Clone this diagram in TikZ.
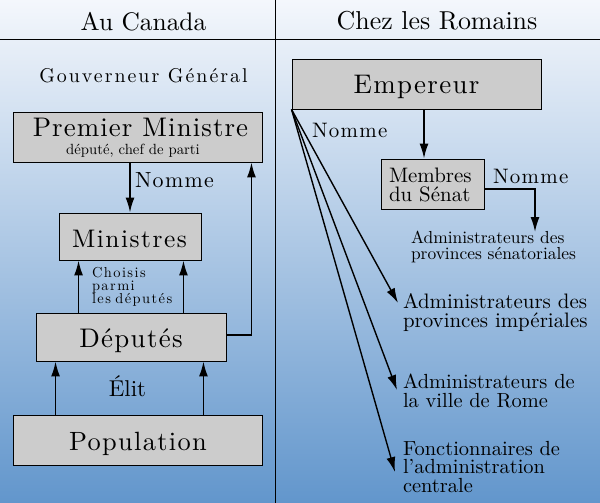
\documentclass[tikz,border=0pt]{standalone}
\usepackage{fontspec}
\setmainfont{lmroman10-regular}[Extension=.otf]
\usetikzlibrary{arrows.meta}
\definecolor{bgtop}{RGB}{244,247,252}
\definecolor{bgbot}{RGB}{98,150,204}
\definecolor{boxgray}{RGB}{204,204,204}
\newcommand{\fs}[1]{\fontsize{#1}{#1}\selectfont}
\newcommand{\ls}[1]{\addfontfeature{LetterSpace=#1}}
\begin{document}
\begin{tikzpicture}[x=1bp,y=-1bp,
  box/.style={draw=black,line width=0.9pt,fill=boxgray,inner sep=0pt},
  txt/.style={inner sep=0pt,outer sep=0pt},
  arr/.style={line width=1.7pt,-{Latex[length=15pt,width=9pt]}},
  darr/.style={line width=1.4pt,-{Latex[length=15pt,width=9pt]}},
  sep/.style={line width=0.9pt,black}]
\shade[top color=bgtop,bottom color=bgbot] (0,0) rectangle (600,503);
\useasboundingbox (0,0) rectangle (600,503);
\draw[sep] (0,39) -- (600,39);
\draw[sep] (275.5,0) -- (275.5,503);
% titles
\node[txt,anchor=base] (canada) at (143.5,31) {\fs{25.5}Au Canada};
\node[txt,anchor=base] (romains) at (437,30) {\fs{26}Chez les Romains};
% left side
\node[txt,anchor=base] (gouv) at (143.5,83) {\fs{20}\ls{10}Gouverneur Général};
\node[box,minimum width=249bp,minimum height=50bp] (pm) at (137.5,137) {};
\node[txt,anchor=base] (pmtxt) at (140.5,137) {\fs{27}\ls{4}Premier Ministre};
\node[txt,anchor=base] (pmsub) at (133,155) {\fs{14.8}député, chef de parti};
\node[box,minimum width=142bp,minimum height=47bp] (min) at (130,236.5) {};
\node[txt,anchor=base] (mintxt) at (129.5,247) {\fs{25.5}\ls{6}Ministres};
\node[box,minimum width=190bp,minimum height=48bp] (dep) at (131,337) {};
\node[txt,anchor=base] (deptxt) at (131,347) {\fs{27}\ls{5}Députés};
\node[box,minimum width=249bp,minimum height=50bp] (pop) at (137.5,440) {};
\node[txt,anchor=base] (poptxt) at (138,450) {\fs{26.5}\ls{5}Population};
\node[txt,anchor=base west] (nomme1) at (135,188) {\fs{22}\ls{6}Nomme};
\node[txt,anchor=base west,text width=100bp,align=flush left,
  font={\fontsize{14.5}{13.5}\selectfont\ls{10}}] (choisis) at (92,277)
  {Choisis\\parmi\\les\hspace{0.3em}députés};
\node[txt,anchor=base] (elit) at (127.5,396) {\fs{23}Élit};
\draw[arr] (pm.south -| min.north) -- (min.north);
\draw[arr] ([xshift=20bp]min.south west |- dep.north) -- ([xshift=20bp]min.south west);
\draw[arr] ([xshift=-18bp]min.south east |- dep.north) -- ([xshift=-18bp]min.south east);
\draw[arr] ([yshift=2bp]dep.east) -| ([xshift=-11bp]pm.south east);
\draw[arr] ([xshift=20bp]dep.south west |- pop.north) -- ([xshift=20bp]dep.south west);
\draw[arr] ([xshift=-23bp]dep.south east |- pop.north) -- ([xshift=-23bp]dep.south east);
% right side
\node[box,minimum width=249bp,minimum height=50bp] (emp) at (416.5,84) {};
\node[txt,anchor=base] (emptxt) at (416.5,94) {\fs{27}\ls{5}Empereur};
\node[box,minimum width=103bp,minimum height=50bp] (mem) at (432.5,184) {};
\node[txt,anchor=base west,text width=100bp,align=flush left,
  font={\fontsize{21}{19}\selectfont}] (memtxt) at (389,183)
  {Membres\\du Sénat};
\node[txt,anchor=base west] (nomme2) at (312,138) {\fs{21}\ls{6}Nomme};
\node[txt,anchor=base west] (nomme3) at (493,184) {\fs{21}\ls{6}Nomme};
\node[txt,anchor=base west,text width=190bp,align=flush left,
  font={\fontsize{17.5}{17}\selectfont}] (senat) at (411,243)
  {Administrateurs des\\provinces sénatoriales};
\node[txt,anchor=base west,text width=196bp,align=flush left,
  font={\fontsize{21}{20}\selectfont}] (imp) at (403,308)
  {Administrateurs des\\provinces impériales};
\node[txt,anchor=base west,text width=196bp,align=flush left,
  font={\fontsize{20.5}{20}\selectfont}] (rome) at (403,388)
  {Administrateurs de\\la ville de Rome};
\node[txt,anchor=base west,text width=196bp,align=flush left,
  font={\fontsize{20.5}{19}\selectfont}] (fonc) at (403,455)
  {Fonctionnaires de\\l\symbol{39}administration\\centrale};
\coordinate (sentip) at (535,232);
\coordinate (imptip) at (398,303);
\coordinate (rometip) at (397,390);
\coordinate (fonctip) at (395,472);
\draw[arr] ([xshift=-8.5bp]mem.north |- emp.south) -- ([xshift=-8.5bp]mem.north);
\draw[arr] ([yshift=-5bp]mem.east) -| (sentip);
\draw[darr] (emp.south west) -- (imptip);
\draw[darr] (emp.south west) -- (rometip);
\draw[darr] (emp.south west) -- (fonctip);
\end{tikzpicture}
\end{document}
